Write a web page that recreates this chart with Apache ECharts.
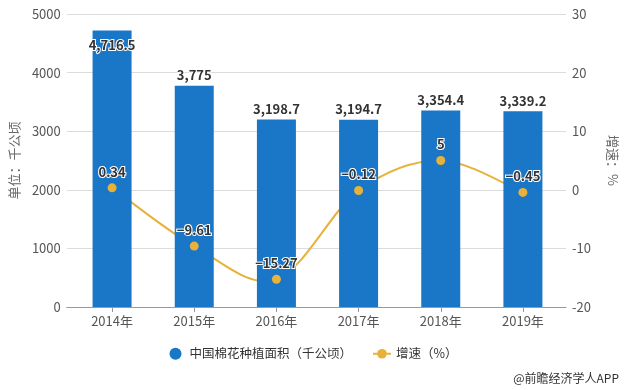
<!DOCTYPE html>
<html><head><meta charset="utf-8">
<script src="https://cdn.jsdelivr.net/npm/echarts@6/dist/echarts.min.js"></script>
<style>html,body{margin:0;padding:0;background:#fff}#c{width:627px;height:390px}</style>
</head><body><div id="c"></div>
<script>
const categories = ['2014年','2015年','2016年','2017年','2018年','2019年'];
const areaValues = [4716.5, 3775, 3198.7, 3194.7, 3354.4, 3339.2];
const growthValues = [0.34, -9.61, -15.27, -0.12, 5, -0.45];
const leftTicks = {min: 0, max: 5000, interval: 1000};
const rightTicks = {min: -20, max: 30, interval: 10};
const barName = '中国棉花种植面积（千公顷）';
const lineName = '增速（%）';

const FONT = '"Noto Sans CJK SC", "Noto Sans", sans-serif';
const LINE_COLOR = '#e8b23a';
const chart = echarts.init(document.getElementById('c'));
const fmt = v => v.toLocaleString('en-US', {maximumFractionDigits: 2});
const fmtG = v => (v < 0 ? '\u2212' + Math.abs(v) : String(v));

// Catmull-Rom curve through the growth points, positioned by the axes
function renderCurve(params, api) {
  if (params.dataIndex !== 0) return null;
  const n = growthValues.length;
  const p = growthValues.map((v, i) => api.coord([i, v]));
  const P = i => p[Math.max(0, Math.min(n - 1, i))];
  const children = [];
  for (let i = 0; i < n - 1; i++) {
    const a = P(i - 1), b = P(i), c = P(i + 1), e = P(i + 2);
    children.push({
      type: 'bezierCurve',
      shape: {
        x1: b[0], y1: b[1], x2: c[0], y2: c[1],
        cpx1: b[0] + (c[0] - a[0]) / 6, cpy1: b[1] + (c[1] - a[1]) / 6,
        cpx2: c[0] - (e[0] - b[0]) / 6, cpy2: c[1] - (e[1] - b[1]) / 6
      },
      style: {fill: null, stroke: LINE_COLOR, lineWidth: 2}
    });
  }
  return {type: 'group', children};
}

chart.setOption({
  animation: false,
  textStyle: {fontFamily: FONT},
  grid: [
    {left: 60, right: 55, top: 14, bottom: 83},
    {left: 71, right: 63, top: 14, bottom: 83}
  ],
  legend: {
    bottom: 25, left: 'center', itemGap: 20, itemWidth: 18, itemHeight: 12,
    textStyle: {fontSize: 12.5, color: '#333', fontFamily: FONT},
    data: [{name: barName, icon: 'circle'},
           {name: lineName, lineStyle: {color: LINE_COLOR, width: 2, opacity: 1}}]
  },
  xAxis: [
    {gridIndex: 0, type: 'category', data: categories,
     axisLine: {lineStyle: {color: '#999'}}, axisTick: {show: false}, axisLabel: {show: false}},
    {gridIndex: 1, type: 'category', data: categories,
     axisLine: {show: false},
     axisTick: {show: true, alignWithLabel: true, length: 5, lineStyle: {color: '#999'}},
     axisLabel: {color: '#555', fontSize: 13, margin: 8, fontFamily: FONT}}
  ],
  yAxis: [
    {gridIndex: 0, type: 'value', position: 'left', ...leftTicks,
     name: '单位：千公顷', nameLocation: 'middle', nameGap: 44,
     nameTextStyle: {color: '#666', fontSize: 13, fontFamily: FONT},
     axisLine: {show: false}, axisTick: {show: false},
     axisLabel: {color: '#555', fontSize: 13, margin: 6, formatter: v => String(v)},
     splitLine: {lineStyle: {color: '#dcdcdc'}}},
    {gridIndex: 0, type: 'value', position: 'right', ...rightTicks,
     name: '增速：%', nameLocation: 'middle', nameGap: 40, nameRotate: -90,
     nameTextStyle: {color: '#666', fontSize: 13, fontFamily: FONT},
     axisLine: {show: false}, axisTick: {show: false},
     axisLabel: {color: '#555', fontSize: 13, margin: 6, formatter: v => String(v)},
     splitLine: {show: false}},
    {gridIndex: 1, type: 'value', ...leftTicks, show: false, splitLine: {show: false}},
    {gridIndex: 1, type: 'value', ...rightTicks, show: false, splitLine: {show: false}}
  ],
  series: [
    {name: barName, type: 'bar', xAxisIndex: 1, yAxisIndex: 2, barWidth: 39,
     itemStyle: {color: '#1a76c6'},
     data: areaValues.map((v, i) => i === 0
        ? {value: v, label: {position: 'insideTop', distance: 8}}
        : v),
     label: {show: true, position: 'top', distance: 4, formatter: p => fmt(p.value),
       color: '#333', fontSize: 13, fontWeight: 'bold', textBorderColor: '#fff', textBorderWidth: 2}},
    {name: 'curve', type: 'custom', xAxisIndex: 1, yAxisIndex: 3, z: 2,
     renderItem: renderCurve, silent: true, clip: false,
     data: growthValues.map((v, i) => [i, v])},
    {name: lineName, type: 'line', xAxisIndex: 1, yAxisIndex: 3, z: 3,
     symbol: 'circle', symbolSize: 9,
     lineStyle: {color: LINE_COLOR, width: 2, opacity: 0}, itemStyle: {color: LINE_COLOR},
     data: growthValues,
     label: {show: true, position: 'top', distance: 5, formatter: p => fmtG(p.value),
       color: '#333', fontSize: 13, fontWeight: 'bold', textBorderColor: '#fff', textBorderWidth: 2}}
  ],
  graphic: [
    {type: 'text', right: 8, bottom: 6,
     style: {text: '@前瞻经济学人APP', fill: '#333', fontSize: 12, fontFamily: FONT}}
  ]
});
</script></body></html>
